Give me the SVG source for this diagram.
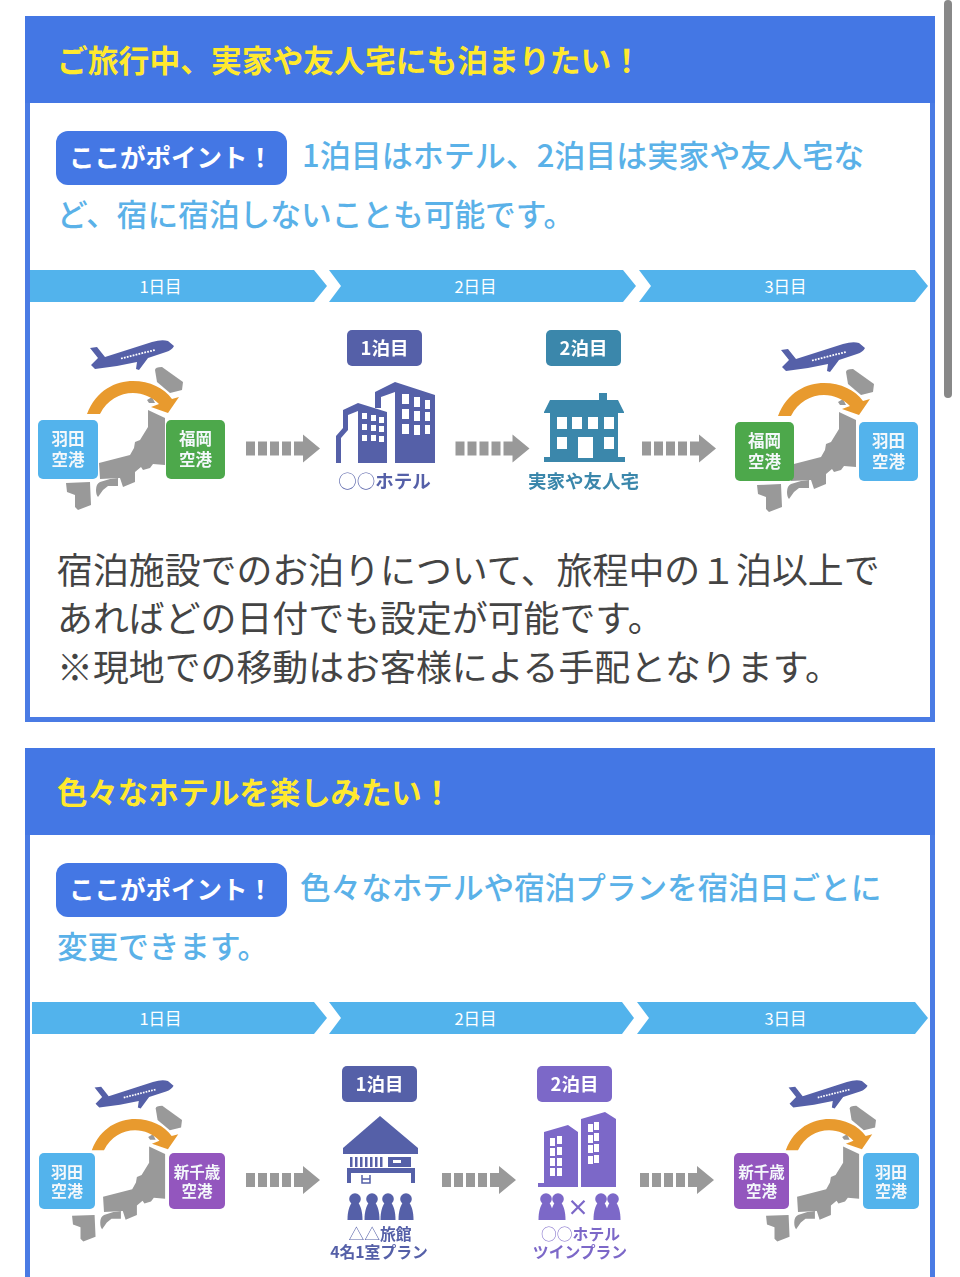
<svg xmlns="http://www.w3.org/2000/svg" width="960" height="1277" viewBox="0 0 960 1277">
<style>
text{font-family:"Noto Sans CJK JP","Noto Sans",sans-serif}
.hd{font-size:30.800px;font-weight:700;fill:#FFE92E}
.pill{fill:#4477E4}
.pt{font-size:25.500px;font-weight:700;fill:#fff}
.bl{font-size:31px;font-weight:500;fill:#5AB1E8}
.body{font-size:35.900px;font-weight:400;fill:#444}
.day{fill:#52B3EC}
.dt{font-size:16.500px;fill:#fff;text-anchor:middle}
.tile{font-size:16.500px;font-weight:700;fill:#f4f8fb;text-anchor:middle}
.bt{font-size:18.500px;font-weight:700;fill:#fff;text-anchor:middle}
.cap{font-size:18.500px;font-weight:700;text-anchor:middle}
.cap2{font-size:15.800px;font-weight:700;text-anchor:middle}
.lt{font-weight:300}
.ar{fill:#999}
.win{fill:#fff}
.ind{fill:#5560A8}
.tea{fill:#3A87AB}
.pur{fill:#7C68C8}
.soft{filter:url(#soft)}
</style>
<defs>
<filter id="soft" x="-5%" y="-5%" width="110%" height="110%"><feGaussianBlur stdDeviation=".35"/></filter>
<g id="map">
<path fill="#999" d="M155 370Q155 367 162 367L183 382L182 390L170 393L157 382Z"/>
<path fill="#999" d="M147 400L152 397L155 403L149 403ZM148 410L165 418V465L153 464L150 468L143 470L141 467L135 472L135 482L123 487L120 478L100 479L99 463L130 455L134 448L135 442L140 440L148 427Z"/>
<path fill="#999" d="M96 490Q96 484 100 482L110 479L118 478V486L108 486L103 490L98 497Q96 495 96 490Z"/>
<path fill="#999" d="M66 483L90 482L91 505L78 510L75 507L75 495L67 492Z"/>
<path fill="#5560A8" d="M90 348L97 347L105 357L152 342Q162 339 168 341L174 346Q172 350 166 352L148 358L139 370L136 369L137 362L117 366L95 369L91 365L98 358Z"/>
<path stroke="#fff" stroke-width="1.800" stroke-dasharray="1.800 1.200" fill="none" d="M121 358.500L155 350"/>
<path fill="#E89A2F" d="M87 414C96 390 116 381 133 381C150 381 164 388 172 399L179 397L168 413L151 407L159 404C152 397 143 393 133 393C120 393 107 400 100 414Z"/>
</g>
<g id="dash" class="ar"><rect x="0" y="-7" width="9" height="14"/><rect x="12" y="-7" width="9" height="14"/><rect x="24" y="-7" width="9" height="14"/><rect x="36" y="-7" width="9" height="14"/><path d="M48-7H57V-14L74 0L57 14V7H48Z"/></g>
<g id="person"><circle cx="0" cy="-16" r="5.800"/><path d="M-3.500-12H3.500C6-8 7.500-3 7.500 5H-7.500C-7.500-3-6-8-3.500-12Z"/></g>
</defs>

<rect width="960" height="1277" fill="#fff"/>
<rect x="944" y="0" width="8" height="398" rx="4" fill="#888"/>

<g id="card1">
<rect x="27.500" y="18.500" width="905" height="701" fill="#fff" stroke="#4A7BE4" stroke-width="5"/>
<rect x="25" y="16" width="910" height="87" fill="#4477E4"/>
<text class="hd" x="57" y="72">ご旅行中、実家や友人宅にも泊まりたい！</text>
<rect class="pill" x="56" y="131" width="231" height="54" rx="12"/>
<text class="pt" x="69" y="167">ここがポイント！</text>
<text class="bl" x="302" y="167">1泊目はホテル、2泊目は実家や友人宅な</text>
<text class="bl" x="57" y="226" style="font-size:30.700px">ど、宿に宿泊しないことも可能です。</text>
<text class="body" x="57" y="584">宿泊施設でのお泊りについて、旅程中の１泊以上で</text>
<text class="body" x="57" y="632">あればどの日付でも設定が可能です。</text>
<text class="body" x="57" y="681">※現地での移動はお客様による手配となります。</text>
</g>

<g id="days1">
<path class="day" d="M30 270H314L327 286L314 302H30Z"/>
<path class="day" d="M329 270H623L636 286L623 302H329L341 286Z"/>
<path class="day" d="M639 270H915L928 286L915 302H639L651 286Z"/>
<text class="dt" x="160.500" y="292.500">1日目</text>
<text class="dt" x="475.500" y="292.500">2日目</text>
<text class="dt" x="785.500" y="292.500">3日目</text>
</g>

<g id="route1-start" class="soft">
<use href="#map"/>
<rect x="38" y="420" width="60" height="59" rx="5" fill="#52B3EC"/>
<text class="tile"><tspan x="68" y="445">羽田</tspan><tspan x="68" y="466">空港</tspan></text>
<rect x="166" y="420" width="59" height="59" rx="5" fill="#4EA84C"/>
<text class="tile"><tspan x="195.500" y="445">福岡</tspan><tspan x="195.500" y="466">空港</tspan></text>
</g>

<g id="hotel1" class="soft">
<rect class="ind" x="347" y="330" width="75" height="36" rx="5"/>
<text class="bt" x="384.500" y="354.500">1泊目</text>
<path class="ind" d="M375 408V392L395 382L435 395V463H395V392L381 397V408Z"/>
<path class="ind" d="M336 463V436L343 428V410L358 403L387 412V463H358V411L348 415V430L341 438V463Z"/>
<g class="win">
<rect x="362" y="413" width="5" height="6"/><rect x="371" y="415" width="5" height="6"/><rect x="379" y="417" width="5" height="6"/>
<rect x="362" y="424" width="5" height="6"/><rect x="371" y="425" width="5" height="6"/><rect x="379" y="426" width="5" height="6"/>
<rect x="362" y="435" width="5" height="6"/><rect x="371" y="435" width="5" height="6"/><rect x="379" y="436" width="5" height="6"/>
<rect x="402" y="394" width="7" height="10"/><rect x="414" y="397" width="6" height="10"/><rect x="425" y="400" width="5" height="9"/>
<rect x="402" y="409" width="7" height="10"/><rect x="414" y="411" width="6" height="10"/><rect x="425" y="412" width="5" height="9"/>
<rect x="402" y="424" width="7" height="10"/><rect x="414" y="425" width="6" height="10"/><rect x="425" y="425" width="5" height="9"/>
</g>
<text class="cap ind" x="384.500" y="488"><tspan class="lt">○○</tspan>ホテル</text>
</g>

<g id="home1" class="soft">
<rect class="tea" x="546" y="330" width="75" height="36" rx="5"/>
<text class="bt" x="583.500" y="354.500">2泊目</text>
<path class="tea" d="M544 412L550 400H599V393H607V400H618L624 412V413H618V457H625V462H544V457H550V413H544Z"/>
<g class="win">
<rect x="557" y="417" width="10" height="12"/><rect x="572" y="417" width="10" height="12"/><rect x="588" y="417" width="10" height="12"/><rect x="604" y="417" width="10" height="12"/>
<rect x="557" y="437" width="10" height="12"/><rect x="604" y="437" width="10" height="12"/><rect x="578" y="437" width="15" height="21"/>
</g>
<text class="cap tea" x="583.500" y="488">実家や友人宅</text>
</g>

<g id="route1-end" class="soft">
<use href="#map" transform="translate(691 2)"/>
<rect x="735" y="422" width="59" height="59" rx="5" fill="#4EA84C"/>
<text class="tile"><tspan x="764.500" y="447">福岡</tspan><tspan x="764.500" y="468">空港</tspan></text>
<rect x="859" y="422" width="59" height="59" rx="5" fill="#52B3EC"/>
<text class="tile"><tspan x="888.500" y="447">羽田</tspan><tspan x="888.500" y="468">空港</tspan></text>
</g>

<g id="card2">
<path d="M27.500 1277V750.500H932.500V1277" fill="#fff" stroke="#4A7BE4" stroke-width="5"/>
<rect x="25" y="748" width="910" height="87" fill="#4477E4"/>
<text class="hd" x="57" y="804" style="font-size:30.400px">色々なホテルを楽しみたい！</text>
<rect class="pill" x="56" y="863" width="231" height="54" rx="12"/>
<text class="pt" x="69" y="899">ここがポイント！</text>
<text class="bl" x="300" y="899" style="font-size:30.600px">色々なホテルや宿泊プランを宿泊日ごとに</text>
<text class="bl" x="57" y="958" style="font-size:30.600px">変更できます。</text>
</g>

<g id="days2">
<path class="day" d="M32 1002H314L327 1018L314 1034H32Z"/>
<path class="day" d="M329 1002H622L634 1018L622 1034H329L341 1018Z"/>
<path class="day" d="M637 1002H915L928 1018L915 1034H637L649 1018Z"/>
<text class="dt" x="160.500" y="1024.500">1日目</text>
<text class="dt" x="475.500" y="1024.500">2日目</text>
<text class="dt" x="785.500" y="1024.500">3日目</text>
</g>

<g id="route2-start" class="soft">
<use href="#map" transform="translate(10 757) scale(.94 .95)"/>
<rect x="39" y="1153" width="56" height="56" rx="5" fill="#52B3EC"/>
<text class="tile" style="font-size:16px"><tspan x="67" y="1178">羽田</tspan><tspan x="67" y="1197">空港</tspan></text>
<rect x="169" y="1153" width="56" height="56" rx="5" fill="#9356BE"/>
<text class="tile" style="font-size:15.500px"><tspan x="197" y="1178">新千歳</tspan><tspan x="197" y="1197">空港</tspan></text>
</g>

<g id="ryokan" class="soft">
<rect class="ind" x="342" y="1066" width="75" height="36" rx="5"/>
<text class="bt" x="379.500" y="1090.500">1泊目</text>
<path class="ind" d="M380 1116L418 1148V1154H343V1148Z"/>
<path class="ind" fill-rule="evenodd" d="M350 1157h2.500v10h-2.500zM355 1157h2.500v10h-2.500zM360 1157h2.500v10h-2.500zM365 1157h2.500v10h-2.500zM370 1157h2.500v10h-2.500zM375 1157h2.500v10h-2.500zM380 1157h2.500v10h-2.500zM388 1157h23v10h-23zM393 1160v3h8v-3z"/>
<path class="ind" d="M347 1168H415V1183H411V1173H351V1183H347Z"/>
<path d="M362 1175V1183H370V1175M362 1179H370" fill="none" stroke="#5560A8" stroke-width="1.500"/>
<g class="ind"><use href="#person" x="355" y="1215"/><use href="#person" x="372" y="1215"/><use href="#person" x="388" y="1215"/><use href="#person" x="406" y="1215"/></g>
<text class="cap2 ind" x="380" y="1240"><tspan class="lt">△△</tspan>旅館</text>
<text class="cap2 ind" x="379" y="1258">4名1室プラン</text>
</g>

<g id="hotel2" class="soft">
<rect class="pur" x="537" y="1066" width="75" height="36" rx="5"/>
<text class="bt" x="574.500" y="1090.500">2泊目</text>
<path class="pur" d="M544 1132L568 1125L578 1132V1187H538V1183H544Z"/>
<path class="pur" d="M581 1119L605 1112L616 1119V1187H581Z"/>
<g class="win">
<rect x="550" y="1138" width="5" height="8"/><rect x="557" y="1136" width="5" height="8"/>
<rect x="550" y="1148" width="5" height="8"/><rect x="557" y="1147" width="5" height="8"/>
<rect x="550" y="1158" width="5" height="8"/><rect x="557" y="1158" width="5" height="8"/>
<rect x="550" y="1168" width="5" height="8"/><rect x="557" y="1168" width="5" height="8"/>
<rect x="588" y="1124" width="5" height="8"/><rect x="594" y="1122" width="5" height="8"/>
<rect x="588" y="1135" width="5" height="8"/><rect x="594" y="1133" width="5" height="8"/>
<rect x="588" y="1145" width="5" height="8"/><rect x="594" y="1144" width="5" height="8"/>
<rect x="588" y="1156" width="5" height="8"/><rect x="594" y="1155" width="5" height="8"/>
</g>
<g class="pur"><use href="#person" x="546" y="1215"/><use href="#person" x="558" y="1215"/><use href="#person" x="601" y="1215"/><use href="#person" x="613" y="1215"/></g>
<text class="pur" x="578" y="1215" style="font-size:22px;font-weight:700;text-anchor:middle">×</text>
<text class="cap2 pur" x="580.500" y="1240"><tspan class="lt">○○</tspan>ホテル</text>
<text class="cap2 pur" x="580" y="1258">ツインプラン</text>
</g>

<g id="route2-end" class="soft">
<use href="#map" transform="translate(704 757) scale(.94 .95)"/>
<rect x="734" y="1153" width="55" height="56" rx="5" fill="#9356BE"/>
<text class="tile" style="font-size:15.500px"><tspan x="761.500" y="1178">新千歳</tspan><tspan x="761.500" y="1197">空港</tspan></text>
<rect x="863" y="1153" width="56" height="56" rx="5" fill="#52B3EC"/>
<text class="tile" style="font-size:16px"><tspan x="891" y="1178">羽田</tspan><tspan x="891" y="1197">空港</tspan></text>
</g>

<g id="connectors" class="soft">
<use href="#dash" x="246" y="448.500"/>
<use href="#dash" x="455.500" y="448.500"/>
<use href="#dash" x="642" y="448.500"/>
<use href="#dash" x="246" y="1180"/>
<use href="#dash" x="442" y="1180"/>
<use href="#dash" x="640" y="1180"/>
</g>
</svg>
